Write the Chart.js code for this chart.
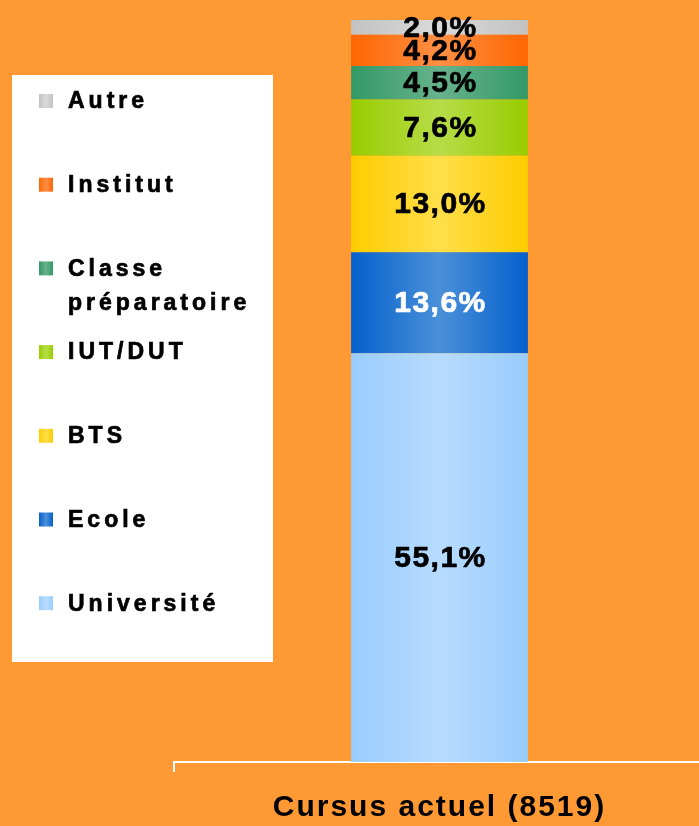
<!DOCTYPE html>
<html>
<head>
<meta charset="utf-8">
<script src="https://cdn.jsdelivr.net/npm/chart.js@4.4.1/dist/chart.umd.min.js"></script>
<style>
  html, body { margin: 0; padding: 0; background: #ff9933; overflow: hidden; }
  #wrap { position: relative; width: 699px; height: 826px; overflow: hidden; }
</style>
</head>
<body>
<div id="wrap"><canvas id="myChart" width="705" height="826"></canvas></div>
<script>
// data
const categories = ["Cursus actuel (8519)"];
const seriesNames = ["Université", "Ecole", "BTS", "IUT/DUT", "Classe préparatoire", "Institut", "Autre"];
const seriesValues = [55.1, 13.6, 13.0, 7.6, 4.5, 4.2, 2.0];

// colours: [edge, centre]
const palette = [
  ["#99ccff", "#b8dcff"],
  ["#0560cc", "#4a90d8"],
  ["#ffcc00", "#ffdf4a"],
  ["#99cc00", "#b6dd48"],
  ["#339966", "#68b28c"],
  ["#ff6600", "#ff8f45"],
  ["#c2c2c2", "#dadada"],
];
const labelColors = ["#000", "#fff", "#000", "#000", "#000", "#000", "#000"];

const FONT = "'Liberation Sans', Arial, sans-serif";
const BAR_PCT = 0.333;

// horizontal gradient across the bar
const barGradient = (chart, i) => {
  const xs = chart.scales.x;
  if (!chart.chartArea || !xs) return palette[i][0];
  const cx = xs.getPixelForValue(0);
  const half = xs.width / categories.length * BAR_PCT / 2;
  const g = chart.ctx.createLinearGradient(cx - half, 0, cx + half, 0);
  g.addColorStop(0, palette[i][0]);
  g.addColorStop(0.5, palette[i][1]);
  g.addColorStop(1, palette[i][0]);
  return g;
};

const fmt = v => v.toFixed(1).replace(".", ",") + "%";

// letter spacing like the original rendering
const spacingPlugin = {
  id: "spacing",
  beforeDraw(chart) {
    chart.ctx.letterSpacing = "2px";
  },
};

const heavyText = (ctx, t, x, y, color) => {
  ctx.fillStyle = color;
  ctx.strokeStyle = color;
  ctx.lineWidth = 0.7;
  ctx.fillText(t, x, y);
  ctx.strokeText(t, x, y);
};

// percentage labels inside segments
const valueLabels = {
  id: "valueLabels",
  afterDatasetsDraw(chart) {
    const ctx = chart.ctx;
    ctx.save();
    ctx.font = "bold 30px " + FONT;
    ctx.letterSpacing = "1.5px";
    ctx.textAlign = "center";
    ctx.textBaseline = "middle";
    chart.data.datasets.forEach((ds, i) => {
      chart.getDatasetMeta(i).data.forEach((bar, j) => {
        const y = (bar.y + bar.base) / 2;
        heavyText(ctx, fmt(ds.data[j]), bar.x + 1, y + 1, labelColors[i]);
      });
    });
    ctx.restore();
  },
};

// boxed legend on the left, top item = last series
const boxLegend = {
  id: "boxLegend",
  afterDraw(chart) {
    const ctx = chart.ctx;
    ctx.save();
    ctx.fillStyle = "#ffffff";
    ctx.fillRect(12, 75, 261, 587);
    ctx.font = "bold 23px " + FONT;
    ctx.letterSpacing = "4px";
    ctx.textBaseline = "middle";
    ctx.textAlign = "left";
    const n = seriesNames.length;
    for (let k = 0; k < n; k++) {
      const i = n - 1 - k;
      const y = 101 + k * 83.7;
      const g = ctx.createLinearGradient(39, 0, 53, 0);
      g.addColorStop(0, palette[i][0]);
      g.addColorStop(0.5, palette[i][1]);
      g.addColorStop(1, palette[i][0]);
      ctx.fillStyle = g;
      ctx.fillRect(39, y - 7, 14, 14);
      let lines = [seriesNames[i]];
      if (ctx.measureText(seriesNames[i]).width > 200) lines = seriesNames[i].split(" ");
      lines.forEach((t, l) => heavyText(ctx, t, 68, y + 1 + l * 34, "#000"));
    }
    ctx.restore();
  },
};

const config = {
  type: "bar",
  data: {
    labels: categories,
    datasets: seriesNames.map((name, i) => ({
      label: name,
      data: [seriesValues[i]],
      backgroundColor: c => barGradient(c.chart, i),
      borderWidth: 0,
      categoryPercentage: 1,
      barPercentage: BAR_PCT,
    })),
  },
  options: {
    responsive: false,
    animation: false,
    layout: { padding: { left: 174, top: 20, right: 0, bottom: -18 } },
    plugins: {
      legend: { display: false },
      tooltip: { enabled: false },
    },
    scales: {
      x: {
        stacked: true,
        border: { display: true, color: "#ffffff", width: 2 },
        grid: {
          drawOnChartArea: false,
          color: c => (c.index === 0 ? "#ffffff" : "rgba(0,0,0,0)"),
          tickLength: 10,
          lineWidth: 2,
        },
        ticks: { color: "#000", padding: 18, font: { family: FONT, size: 30, weight: "bold" } },
      },
      y: {
        stacked: true,
        display: false,
        min: 0,
        max: 100,
      },
    },
  },
  plugins: [spacingPlugin, valueLabels, boxLegend],
};

const myChart = new Chart(document.getElementById("myChart"), config);
</script>
</body>
</html>
